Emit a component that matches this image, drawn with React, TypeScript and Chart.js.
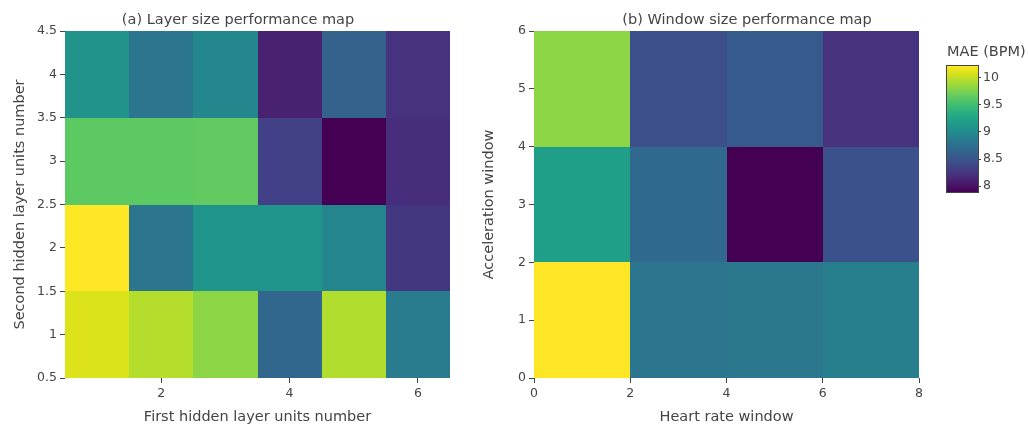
import React, { useEffect, useRef } from "react";
import { Chart, registerables } from "chart.js";
Chart.register(...registerables);

const FONT = '"DejaVu Sans", Verdana, sans-serif';
const TEXT = "#444";
const TICK_SIZE = 12.5;
const TITLE_SIZE = 14.5;

// (a) Layer size performance map
const layerX = [1, 2, 3, 4, 5, 6];
const layerY = [1, 2, 3, 4];
const layerZ = [
  [10.1, 9.96, 9.82, 8.66, 9.95, 8.85], // y = 1
  [10.22, 8.8, 9.1, 9.1, 8.94, 8.26], // y = 2
  [9.64, 9.64, 9.66, 8.33, 7.89, 8.19], // y = 3
  [9.08, 8.8, 8.96, 8.1, 8.61, 8.22], // y = 4
];
const layerXTicks = [2, 4, 6];
const layerYTicks = [0.5, 1, 1.5, 2, 2.5, 3, 3.5, 4, 4.5];

// (b) Window size performance map
const windowX = [1, 3, 5, 7];
const windowY = [1, 3, 5];
const windowZ = [
  [10.22, 8.8, 8.81, 8.89], // y = 1
  [9.2, 8.68, 7.89, 8.47], // y = 3
  [9.82, 8.45, 8.54, 8.22], // y = 5
];
const windowXTicks = [0, 2, 4, 6, 8];
const windowYTicks = [0, 1, 2, 3, 4, 5, 6];

// colour bar
const cbTicks = [8, 8.5, 9, 9.5, 10];
const Z_MIN = 7.89;
const Z_MAX = 10.22;

const VIRIDIS: [number, string][] = [
  [0, "#440154"],
  [0.0627, "#48186a"],
  [0.1255, "#472d7b"],
  [0.1882, "#424086"],
  [0.251, "#3b528b"],
  [0.3137, "#33638d"],
  [0.3765, "#2c728e"],
  [0.4392, "#26828e"],
  [0.502, "#21918c"],
  [0.5647, "#1fa088"],
  [0.6275, "#28ae80"],
  [0.6902, "#3fbc73"],
  [0.7529, "#5ec962"],
  [0.8157, "#84d44b"],
  [0.8784, "#addc30"],
  [0.9412, "#d8e219"],
  [1, "#fde725"],
];

function hexRgb(h: string) {
  return [1, 3, 5].map((i) => parseInt(h.slice(i, i + 2), 16));
}

function viridis(t: number) {
  t = Math.max(0, Math.min(1, t));
  for (let i = 1; i < VIRIDIS.length; i++) {
    const [t1, c1] = VIRIDIS[i];
    const [t0, c0] = VIRIDIS[i - 1];
    if (t <= t1) {
      const f = (t - t0) / (t1 - t0);
      const a = hexRgb(c0);
      const b = hexRgb(c1);
      const c = a.map((v, k) => Math.round(v + (b[k] - v) * f));
      return `rgb(${c[0]},${c[1]},${c[2]})`;
    }
  }
  return VIRIDIS[VIRIDIS.length - 1][1];
}

function edges(c: number[]) {
  const e: number[] = [];
  for (let i = 0; i <= c.length; i++) {
    if (i === 0) e.push(c[0] - (c[1] - c[0]) / 2);
    else if (i === c.length) e.push(c[i - 1] + (c[i - 1] - c[i - 2]) / 2);
    else e.push((c[i - 1] + c[i]) / 2);
  }
  return e;
}

function cells(xs: number[], ys: number[], z: number[][]) {
  const ex = edges(xs);
  const ey = edges(ys);
  const out: any[] = [];
  ys.forEach((y, j) =>
    xs.forEach((x, i) =>
      out.push({ x, y, v: z[j][i], x0: ex[i], x1: ex[i + 1], y0: ey[j], y1: ey[j + 1] })
    )
  );
  return out;
}

const heatmapPlugin = {
  id: "heatmapCells",
  beforeDatasetsDraw(chart: any) {
    const { ctx, chartArea } = chart;
    const xs = chart.scales.x;
    const ys = chart.scales.y;
    ctx.save();
    ctx.beginPath();
    ctx.rect(chartArea.left, chartArea.top, chartArea.right - chartArea.left, chartArea.bottom - chartArea.top);
    ctx.clip();
    for (const p of chart.data.datasets[0].data) {
      const px0 = Math.round(xs.getPixelForValue(p.x0));
      const px1 = Math.round(xs.getPixelForValue(p.x1));
      const py0 = Math.round(ys.getPixelForValue(p.y0));
      const py1 = Math.round(ys.getPixelForValue(p.y1));
      ctx.fillStyle = viridis((p.v - Z_MIN) / (Z_MAX - Z_MIN));
      ctx.fillRect(px0, py1, px1 - px0, py0 - py1);
    }
    ctx.restore();
  },
};

function titlePlugin(text: string, cx: number, cy: number, align: CanvasTextAlign = "center") {
  return {
    id: "panelTitle",
    afterDraw(chart: any) {
      const ctx = chart.ctx;
      ctx.save();
      ctx.font = `${TITLE_SIZE}px ${FONT}`;
      ctx.fillStyle = TEXT;
      ctx.textAlign = align;
      ctx.textBaseline = "middle";
      ctx.fillText(text, cx, cy);
      ctx.restore();
    },
  };
}

function axis(
  min: number,
  max: number,
  ticks: number[],
  title: string,
  size: number,
  horizontal: boolean,
  titlePad: number
) {
  return {
    type: "linear",
    min,
    max,
    afterBuildTicks: (s: any) => {
      s.ticks = ticks.map((v) => ({ value: v }));
    },
    afterFit: (s: any) => {
      if (horizontal) s.height = size;
      else s.width = size;
    },
    grid: { drawOnChartArea: false, drawTicks: true, tickLength: 5, color: TEXT, lineWidth: 1 },
    border: { display: false },
    ticks: {
      font: { family: FONT, size: TICK_SIZE },
      color: TEXT,
      padding: 3,
      maxRotation: 0,
      autoSkip: false,
      callback: (v: any) => String(v),
    },
    title: {
      display: true,
      text: title,
      font: { family: FONT, size: TITLE_SIZE },
      color: TEXT,
      padding: horizontal ? { top: 0, bottom: 0 } : { top: titlePad, bottom: 0 },
    },
  };
}

function HeatPanel(props: any) {
  const ref = useRef<HTMLCanvasElement>(null);
  useEffect(() => {
    const chart = new Chart(ref.current as HTMLCanvasElement, {
      type: "scatter",
      data: {
        datasets: [
          {
            data: cells(props.xs, props.ys, props.z),
            pointRadius: 0,
            pointHoverRadius: 0,
          } as any,
        ],
      },
      options: {
        responsive: false,
        animation: false,
        events: [],
        layout: { padding: props.padding },
        plugins: { legend: { display: false }, tooltip: { enabled: false } },
        scales: {
          x: axis(props.xRange[0], props.xRange[1], props.xTicks, props.xTitle, 48, true, 0) as any,
          y: axis(props.yRange[0], props.yRange[1], props.yTicks, props.yTitle, props.yWidth, false, props.yTitlePad) as any,
        },
      },
      plugins: [heatmapPlugin, titlePlugin(props.title, props.titleX, 20.5)],
    });
    return () => chart.destroy();
  }, []);
  return (
    <canvas
      ref={ref}
      width={props.width}
      height={426}
      style={{ position: "absolute", left: props.left, top: 0, width: props.width, height: 426 }}
    />
  );
}

const colorbarPlugin = {
  id: "colorbarFill",
  beforeDatasetsDraw(chart: any) {
    const { ctx, chartArea } = chart;
    const ys = chart.scales.y;
    const { left, right, top, bottom } = chartArea;
    for (let py = Math.floor(top); py < Math.ceil(bottom); py++) {
      const v = ys.getValueForPixel(py + 0.5);
      ctx.fillStyle = viridis((v - Z_MIN) / (Z_MAX - Z_MIN));
      ctx.fillRect(left, py, right - left, 1);
    }
    ctx.save();
    ctx.strokeStyle = TEXT;
    ctx.lineWidth = 1;
    ctx.strokeRect(Math.round(left) - 0.5, Math.round(top) - 0.5, right - left + 1, bottom - top + 1);
    ctx.restore();
  },
};

function ColorBar() {
  const ref = useRef<HTMLCanvasElement>(null);
  useEffect(() => {
    const chart = new Chart(ref.current as HTMLCanvasElement, {
      type: "scatter",
      data: { datasets: [{ data: [], pointRadius: 0 } as any] },
      options: {
        responsive: false,
        animation: false,
        events: [],
        layout: { padding: { left: 12, right: 0, top: 66, bottom: 234 } },
        plugins: { legend: { display: false }, tooltip: { enabled: false } },
        scales: {
          x: { display: false, min: 0, max: 1 },
          y: {
            type: "linear",
            position: "right",
            min: Z_MIN,
            max: Z_MAX,
            afterBuildTicks: (s: any) => {
              s.ticks = cbTicks.map((v) => ({ value: v }));
            },
            afterFit: (s: any) => {
              s.width = 50;
            },
            grid: { drawOnChartArea: false, drawTicks: true, tickLength: 3, color: TEXT },
            border: { display: false },
            ticks: {
              font: { family: FONT, size: TICK_SIZE },
              color: TEXT,
              padding: 2,
              callback: (v: any) => String(v),
            },
          },
        } as any,
      },
      plugins: [colorbarPlugin, titlePlugin("MAE (BPM)", 12, 52, "left")],
    });
    return () => chart.destroy();
  }, []);
  return (
    <canvas
      ref={ref}
      width={93}
      height={426}
      style={{ position: "absolute", left: 935, top: 0, width: 93, height: 426 }}
    />
  );
}

export default function App() {
  return (
    <div style={{ position: "absolute", left: 0, top: 0, width: 1028, height: 426, background: "#fff", overflow: "hidden" }}>
      <HeatPanel
        left={0}
        width={470}
        padding={{ left: 0, right: 20, top: 31, bottom: 0 }}
        yWidth={65}
        yTitlePad={12}
        xs={layerX}
        ys={layerY}
        z={layerZ}
        xRange={[0.5, 6.5]}
        yRange={[0.5, 4.5]}
        xTicks={layerXTicks}
        yTicks={layerYTicks}
        xTitle="First hidden layer units number"
        yTitle="Second hidden layer units number"
        title="(a) Layer size performance map"
        titleX={238}
      />
      <HeatPanel
        left={470}
        width={465}
        padding={{ left: 0, right: 16, top: 31, bottom: 0 }}
        yWidth={64}
        yTitlePad={11}
        xs={windowX}
        ys={windowY}
        z={windowZ}
        xRange={[0, 8]}
        yRange={[0, 6]}
        xTicks={windowXTicks}
        yTicks={windowYTicks}
        xTitle="Heart rate window"
        yTitle="Acceleration window"
        title="(b) Window size performance map"
        titleX={277}
      />
      <ColorBar />
    </div>
  );
}
